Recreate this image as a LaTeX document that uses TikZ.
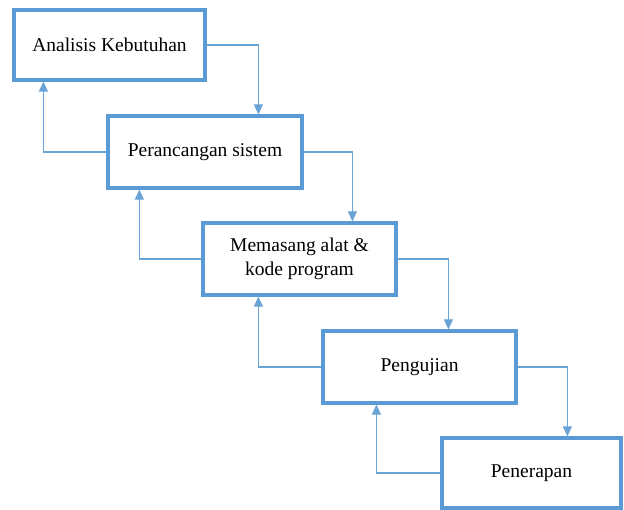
\documentclass[tikz,border=0pt]{standalone}
\usepackage{fontspec}
\setmainfont{Liberation Serif}
\usetikzlibrary{arrows.meta}
\definecolor{boxblue}{RGB}{91,155,213}
\definecolor{lineblue}{RGB}{106,163,214}
\begin{document}
\begin{tikzpicture}[x=1pt,y=-1pt,
  stage/.style={draw=boxblue,line width=3.2pt,fill=white,minimum width=#1,minimum height=70pt,inner sep=0pt,font=\fontsize{19.5}{24}\selectfont,align=center},
  stage/.default=193pt,
  flow/.style={draw=lineblue,line width=1.1pt,-{Triangle[width=9pt,length=10pt]}}]
\useasboundingbox (0,0) rectangle (624,510);
\fill[white] (0,0) rectangle (624,510);
\node[stage=191pt] (b1) at (109.5,45) {Analisis Kebutuhan};
\node[stage=194pt,minimum height=72pt] (b2) at (205,152) {Perancangan sistem};
\node[stage,minimum height=72pt] (b3) at (299.5,259) {Memasang alat \&\\kode program};
\node[stage,minimum height=72pt] (b4) at (419.5,367) {Pengujian};
\node[stage=179pt] (b5) at (531.5,473) {Penerapan};
% forward flow
\draw[flow] (b1.east) -| ([xshift=152pt]b2.north west);
\draw[flow] (b2.east) -| ([xshift=151pt]b3.north west);
\draw[flow] (b3.east) -| ([xshift=127pt]b4.north west);
\draw[flow] (b4.east) -| ([xshift=127pt]b5.north west);
% feedback
\draw[flow] (b2.west) -| ([xshift=31pt]b1.south west);
\draw[flow] (b3.west) -| ([xshift=33pt]b2.south west);
\draw[flow] (b4.west) -| ([xshift=57pt]b3.south west);
\draw[flow] (b5.west) -| ([xshift=55pt]b4.south west);
\end{tikzpicture}
\end{document}
